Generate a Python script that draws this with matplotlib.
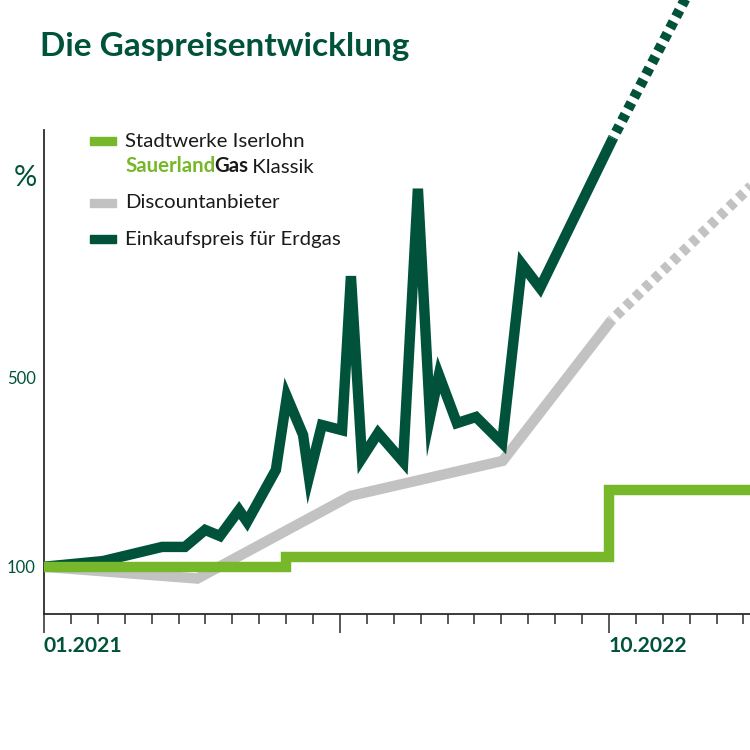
import matplotlib.pyplot as plt
from matplotlib.patches import Rectangle

plt.rcParams['font.family'] = ['Lato', 'DejaVu Sans']

DUNKEL = '#00533a'
HELL = '#77b82a'
GRAU = '#c2c2c2'
SCHWARZ = '#1a1a1a'

# Monate ab 01.2021, Werte in Prozent (100 = Januar 2021)
stadtwerke_monate = [0, 9, 9, 21, 21, 27]
stadtwerke_werte = [100, 100, 121, 121, 263, 263]

discount_monate = [0, 5.7, 11.4, 17.05, 21.1]
discount_werte = [100, 75, 250, 324, 622]
discount_prognose_monate = [21.1, 26.4]
discount_prognose_werte = [622, 912]

einkauf_monate = [0, 2.19, 4.39, 5.24, 5.99, 6.54, 7.25, 7.55, 8.62, 9.03,
                  9.63, 9.85, 10.33, 11.08, 11.41, 11.82, 12.42, 13.35, 13.9,
                  14.35, 14.68, 15.35, 16.06, 17.03, 17.77, 18.44, 21.15]
einkauf_werte = [100, 112, 142, 142, 178, 165, 220, 195, 305, 460,
                 379, 290, 400, 389, 715, 330, 383, 322, 900,
                 417, 506, 404, 417, 362, 740, 690, 1007]
einkauf_prognose_monate = [21.15, 24.6]
einkauf_prognose_werte = [1007, 1385]

legende = ['Stadtwerke Iserlohn', 'Discountanbieter', 'Einkaufspreis für Erdgas']
ytick_werte = [100, 500]
xtick_labels = ['01.2021', '10.2022']
xtick_monate = [0, 21]


def px(x, y):
    # Pixel im 750x750-Bild -> Figure-Koordinaten
    return x / 750, 1 - y / 750


fig = plt.figure(figsize=(7.5, 7.5), dpi=100)
ax = fig.add_axes([44 / 750, 136 / 750, 706 / 750, 614 / 750])
ax.set_xlim(0, 706 / 26.9)
ax.set_ylim(0, 614 / 0.4725)

lw = 7.5
ax.plot(discount_monate, discount_werte, color=GRAU, lw=lw,
        solid_capstyle='butt', solid_joinstyle='miter', zorder=2)
ax.plot(discount_prognose_monate, discount_prognose_werte, color=GRAU, lw=lw,
        linestyle=(0.6, (0.7, 0.55)), dash_capstyle='butt', zorder=2)
ax.plot(einkauf_monate, einkauf_werte, color=DUNKEL, lw=lw,
        solid_capstyle='butt', solid_joinstyle='miter', zorder=3)
ax.plot(einkauf_prognose_monate, einkauf_prognose_werte, color=DUNKEL, lw=lw,
        linestyle=(0.6, (0.7, 0.55)), dash_capstyle='butt', zorder=3)
ax.plot(stadtwerke_monate, stadtwerke_werte, color=HELL, lw=lw,
        solid_capstyle='butt', solid_joinstyle='miter', zorder=4)

for s in ['top', 'right']:
    ax.spines[s].set_visible(False)
ax.spines['left'].set_bounds(0, 1024)
for s in ['left', 'bottom']:
    ax.spines[s].set_color('#2b2b2b')
    ax.spines[s].set_linewidth(1.3)
ax.set_facecolor('none')

ax.set_xticks(range(0, 27), minor=True)
ax.set_xticks([0, 11, 21])
ax.set_xticklabels([])
ax.tick_params(axis='x', which='minor', direction='out', length=7.5, width=1.1, color='#2b2b2b')
ax.tick_params(axis='x', which='major', direction='out', length=14, width=1.1, color='#2b2b2b')

ax.set_yticks(ytick_werte)
ax.set_yticklabels([str(v) for v in ytick_werte])
ax.tick_params(axis='y', length=0, pad=6, labelsize=12, labelcolor=DUNKEL)

for m, lab in zip(xtick_monate, xtick_labels):
    ax.text(m, -22 / 0.4725, lab, ha='left', va='top', fontsize=15.2,
            fontweight='bold', color=DUNKEL, clip_on=False)

fig.text(*px(40, 56), 'Die Gaspreisentwicklung', fontsize=24, fontweight='bold',
         color=DUNKEL, ha='left', va='baseline')
fig.text(*px(25, 178), '%', fontsize=21, color=DUNKEL, ha='center', va='center')

# Legende
farben = [HELL, GRAU, DUNKEL]
box_y = [141, 203, 239]
text_y = [147, 208, 245]
fs = 14.7
for f, by in zip(farben, box_y):
    x0, y0 = px(90, by + 4)
    fig.patches.append(Rectangle((x0, y0), 26 / 750, 8 / 750, color=f,
                                 transform=fig.transFigure, figure=fig))
for lab, ty in zip(legende, text_y):
    fig.text(*px(125, ty), lab, fontsize=fs, color=SCHWARZ, ha='left', va='baseline')

t1 = fig.text(*px(125, 172), 'Sauerland', fontsize=fs, fontweight='bold',
              color=HELL, ha='left', va='baseline')
t2 = ax.annotate('Gas', xy=(1, 0), xycoords=t1, xytext=(-0.8, 0),
                 textcoords='offset points', fontsize=fs, fontweight='bold',
                 color=SCHWARZ, ha='left', va='bottom')
ax.annotate(' Klassik', xy=(1, 0), xycoords=t2, xytext=(-0.8, 0),
            textcoords='offset points', fontsize=fs,
            color=SCHWARZ, ha='left', va='bottom')

fig.savefig('out.png', dpi=100, facecolor='white')
